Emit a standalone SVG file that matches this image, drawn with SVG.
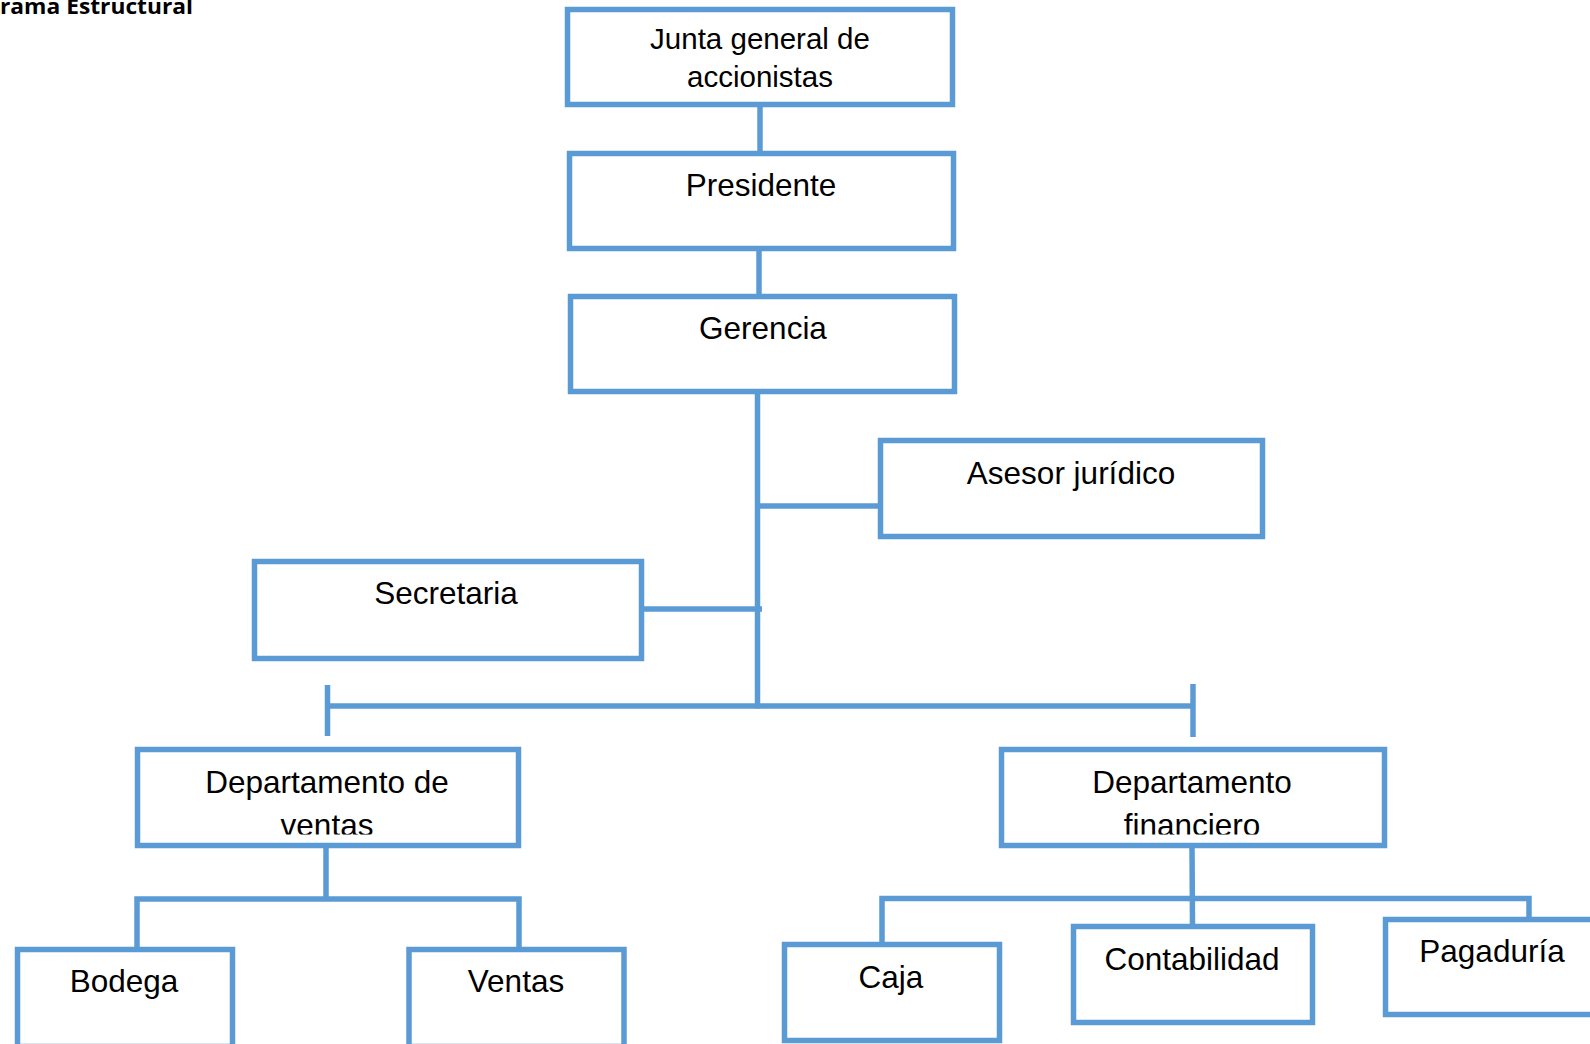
<svg xmlns="http://www.w3.org/2000/svg" width="1590" height="1044" viewBox="0 0 1590 1044">
<style>
.box{fill:#fff;stroke:#5B9BD5;stroke-width:5.5}
.ln{fill:none;stroke:#5B9BD5;stroke-width:5.5}
.t{font-family:"Liberation Sans",Arial,sans-serif;font-size:31.5px;fill:#000;text-anchor:middle}
.tj{font-size:29.5px}
.title{font-family:"Open Sans","Liberation Sans",sans-serif;font-weight:bold;font-size:22px;fill:#000}
</style>
<defs>
<clipPath id="clipV"><rect x="130" y="745" width="400" height="89.5"/></clipPath>
<clipPath id="clipF"><rect x="995" y="745" width="400" height="89.5"/></clipPath>
</defs>
<rect width="1590" height="1044" fill="#fff"/>
<text class="title" x="0" y="14" textLength="193" lengthAdjust="spacingAndGlyphs">rama Estructural</text>
<g id="connectors">
<line class="ln" x1="760" y1="104" x2="760" y2="154"/>
<line class="ln" x1="759" y1="248" x2="759" y2="297"/>
<line class="ln" x1="757.5" y1="392" x2="757.5" y2="708.5"/>
<line class="ln" x1="757.5" y1="506" x2="881" y2="506"/>
<line class="ln" x1="641" y1="609" x2="762" y2="609"/>
<line class="ln" x1="327.5" y1="706" x2="1193" y2="706"/>
<line class="ln" x1="327.5" y1="685" x2="327.5" y2="736"/>
<line class="ln" x1="1193" y1="684" x2="1193" y2="737"/>
<line class="ln" x1="326" y1="846" x2="326" y2="899"/>
<polyline class="ln" points="137,950 137,899 519,899 519,950"/>
<line class="ln" x1="1192" y1="846" x2="1192.5" y2="927"/>
<polyline class="ln" points="882,945 882,898.5 1529,898.5 1529,920"/>
</g>
<g id="junta">
<rect class="box" x="567.5" y="9.5" width="385" height="95"/>
<text class="t tj" x="760" y="49">Junta general de</text>
<text class="t tj" x="760" y="87">accionistas</text>
</g>
<g id="presidente">
<rect class="box" x="569.5" y="153.5" width="384" height="95"/>
<text class="t" x="761" y="196">Presidente</text>
</g>
<g id="gerencia">
<rect class="box" x="570.5" y="296.5" width="384" height="95"/>
<text class="t" x="763" y="339">Gerencia</text>
</g>
<g id="asesor">
<rect class="box" x="880.5" y="440.5" width="382" height="96"/>
<text class="t" x="1071" y="484">Asesor jurídico</text>
</g>
<g id="secretaria">
<rect class="box" x="254.5" y="561.5" width="387" height="97"/>
<text class="t" x="446" y="604">Secretaria</text>
</g>
<g id="dep-ventas">
<rect class="box" x="137.5" y="749.5" width="381" height="96"/>
<text class="t" x="327" y="793">Departamento de</text>
<text class="t" x="327" y="836" clip-path="url(#clipV)">ventas</text>
</g>
<g id="dep-financiero">
<rect class="box" x="1001.5" y="749.5" width="383" height="96"/>
<text class="t" x="1192" y="793">Departamento</text>
<text class="t" x="1192" y="836" clip-path="url(#clipF)">financiero</text>
</g>
<g id="bodega">
<rect class="box" x="17.5" y="949.5" width="215" height="97"/>
<text class="t" x="124" y="992">Bodega</text>
</g>
<g id="ventas">
<rect class="box" x="409" y="949.5" width="215" height="97"/>
<text class="t" x="516" y="992">Ventas</text>
</g>
<g id="caja">
<rect class="box" x="784.5" y="944.5" width="215" height="96"/>
<text class="t" x="891" y="988">Caja</text>
</g>
<g id="contabilidad">
<rect class="box" x="1073.5" y="926.5" width="239" height="96"/>
<text class="t" x="1192" y="970">Contabilidad</text>
</g>
<g id="pagaduria">
<rect class="box" x="1385.5" y="919.5" width="230" height="95"/>
<text class="t" x="1492" y="962">Pagaduría</text>
</g>
</svg>
